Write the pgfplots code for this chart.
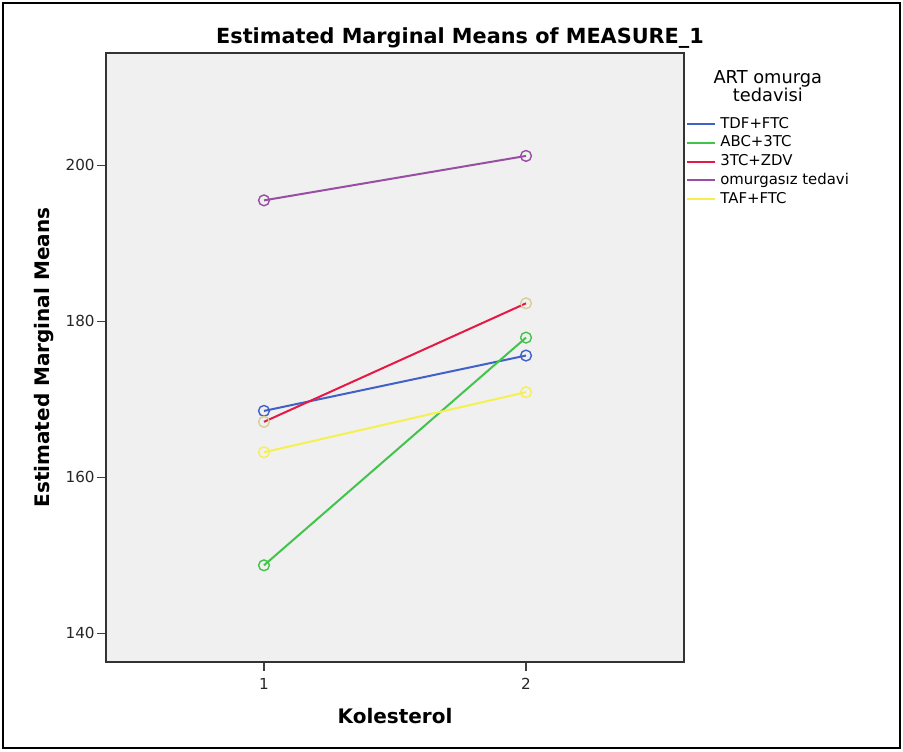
\documentclass[border=0pt]{standalone}
\usepackage{pgfplots}
\pgfplotsset{compat=1.18}
\usepackage{fontspec}
\setmainfont{DejaVu Sans}
\definecolor{cblue}{RGB}{64,97,199}
\definecolor{cgreen}{RGB}{66,196,76}
\definecolor{cred}{RGB}{230,25,70}
\definecolor{cpurple}{RGB}{152,78,163}
\definecolor{cyellow}{RGB}{245,240,80}
\definecolor{ctan}{RGB}{214,206,150}
\definecolor{bggray}{RGB}{240,240,240}
\begin{document}
\begin{tikzpicture}
\path[use as bounding box] (-53pt,-44.5pt) rectangle (398.5pt,331pt);
\begin{axis}[
  scale only axis, width=289pt, height=304.5pt,
  xmin=0.397, xmax=2.603, ymin=136.3, ymax=214.4,
  xtick={1,2}, ytick={140,160,180,200},
  tick align=outside, tick pos=left,
  major tick length=4.5pt,
  tick style={color=black!75, line width=0.6pt},
  axis line style={color=black!80, line width=0.6pt},
  axis background/.style={fill=bggray},
  /pgf/number format/assume math mode=true,
  ticklabel style={font=\fontsize{7.6}{8.5}\selectfont, color=black!85},
  yticklabel style={inner xsep=1pt},
  xlabel={Kolesterol}, ylabel={Estimated Marginal Means},
  label style={font=\fontsize{10}{12}\selectfont\bfseries},
  xlabel style={at={(rel axis cs:0.5,-0.0887)}, anchor=center},
  ylabel style={at={(rel axis cs:-0.1072,0.5)}, anchor=center},
  clip=false,
  legend image code/.code={\draw[#1] (0pt,0pt) -- (14pt,0pt);},
  legend style={at={(rel axis cs:0.993,0.9087)}, anchor=north west, draw=none, fill=none,
    font=\fontsize{7.45}{8.5}\selectfont, row sep=-1.65pt},
  legend cell align=left,
]
\addplot[forget plot, color=cblue, line width=1pt, mark=o, mark size=2.7pt, mark options={cblue, line width=0.7pt}] coordinates {(1,168.5) (2,175.6)};
\addplot[forget plot, color=cgreen, line width=1pt, mark=o, mark size=2.7pt, mark options={cgreen, line width=0.7pt}] coordinates {(1,148.7) (2,177.9)};
\addplot[forget plot, color=cred, line width=1pt, mark=o, mark size=2.7pt, mark options={ctan, line width=0.7pt}] coordinates {(1,167.1) (2,182.3)};
\addplot[forget plot, color=cpurple, line width=1pt, mark=o, mark size=2.7pt, mark options={cpurple, line width=0.7pt}] coordinates {(1,195.5) (2,201.2)};
\addplot[forget plot, color=cyellow, line width=1pt, mark=o, mark size=2.7pt, mark options={cyellow, line width=0.7pt}] coordinates {(1,163.2) (2,170.9)};
\addlegendimage{cblue, line width=1pt}
\addlegendentry{TDF+FTC}
\addlegendimage{cgreen, line width=1pt}
\addlegendentry{ABC+3TC}
\addlegendimage{cred, line width=1pt}
\addlegendentry{3TC+ZDV}
\addlegendimage{cpurple, line width=1pt}
\addlegendentry{omurgasız tedavi}
\addlegendimage{cyellow, line width=1pt}
\addlegendentry{TAF+FTC}
\node[font=\fontsize{8.9}{9.2}\selectfont, align=center] at (rel axis cs:1.145,0.946) {ART omurga\\tedavisi};
\end{axis}
\node[font=\fontsize{10.4}{12}\selectfont\bfseries] at (177pt,312pt) {Estimated Marginal Means of MEASURE\_1};
\draw[line width=1pt] (-51.5pt,-43pt) rectangle (397pt,329.5pt);
\end{tikzpicture}
\end{document}
